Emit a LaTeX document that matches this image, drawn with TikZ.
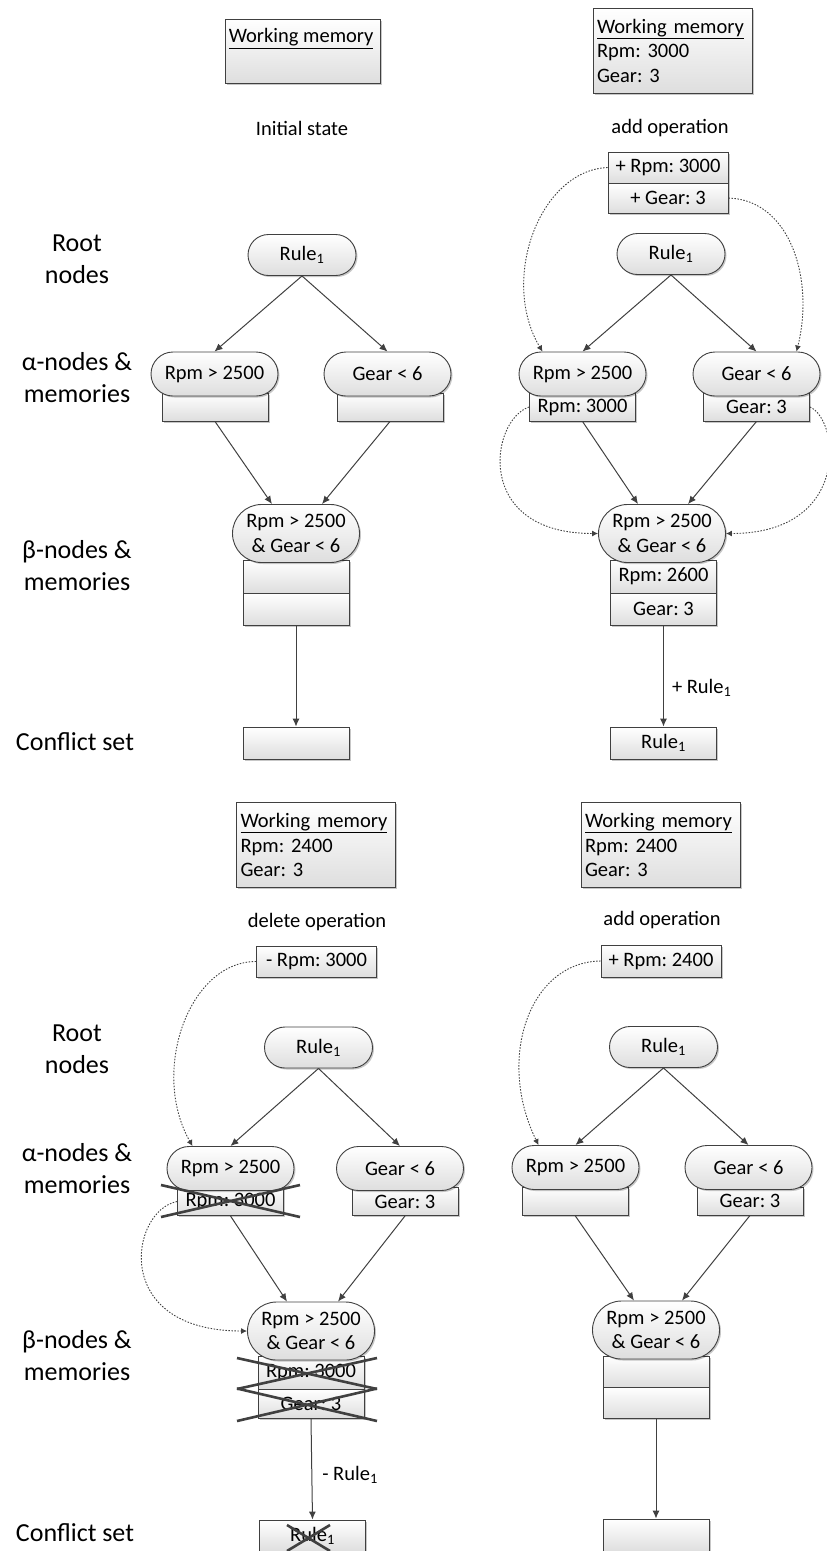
\documentclass[tikz,border=0pt]{standalone}
\usepackage{fontspec}
\setmainfont{Carlito}
\frenchspacing
\usetikzlibrary{shapes.misc,arrows.meta,shadows,calc}
\definecolor{lc}{RGB}{64,64,64}
\definecolor{fillbot}{RGB}{222,222,222}
\newcommand\nsz{\fontsize{20.5pt}{24.5pt}\selectfont}
\newcommand\lsz{\fontsize{26pt}{32pt}\selectfont}
\tikzset{
  base/.style={draw=lc, line width=0.9pt, top color=white, bottom color=fillbot,
    drop shadow={shadow xshift=1.5pt, shadow yshift=-1.5pt, fill=black, opacity=0.22},
    font=\nsz, inner sep=0pt},
  rnode/.style={base, rounded rectangle, minimum width=108pt, minimum height=41pt},
  anode/.style={base, rounded rectangle, minimum width=127pt, minimum height=44pt},
  bnode/.style={base, rounded rectangle, minimum width=127pt, minimum height=58pt, align=center},
  amem/.style={base, rectangle, minimum width=106pt, minimum height=28pt},
  bmem/.style={base, rectangle, minimum width=106pt},
  cbox/.style={base, rectangle, minimum width=106pt, minimum height=32pt},
  opbox/.style={base, rectangle, minimum width=120pt, minimum height=31pt},
  wmbox/.style={base, rectangle, text width=151pt, align=left, inner sep=4pt, minimum height=85pt},
  wmempty/.style={base, rectangle, minimum width=155pt, minimum height=64pt},
  wmtitle/.style={anchor=north west, font=\nsz, inner sep=0pt},
  captxt/.style={font=\nsz, inner sep=0pt},
  side/.style={font=\lsz, align=center, inner sep=0pt},
  arr/.style={draw=lc, line width=1pt, -{Latex[length=8pt,width=7pt]}},
  darr/.style={draw=lc, line width=0.9pt, dash pattern=on 1.5pt off 1.5pt, -{Latex[length=6pt,width=6pt]}},
  xline/.style={draw=lc, line width=2.6pt},
  elab/.style={font=\nsz, inner sep=0pt, anchor=west}
}
\begin{document}
\begin{tikzpicture}[x=1pt,y=-1pt]
\useasboundingbox (0,0) rectangle (827,1551);

% ---------- side labels ----------
\node[side] (l1) at (77,259) {Root\\nodes};
\node[side] (l2) at (77,378) {α-nodes \&\\memories};
\node[side] (l3) at (77,566) {β-nodes \&\\memories};
\node[side] (l4) at (75,742) {Conflict set};
\node[side] (l5) at (77,1049) {Root\\nodes};
\node[side] (l6) at (77,1169) {α-nodes \&\\memories};
\node[side] (l7) at (77,1356) {β-nodes \&\\memories};
\node[side] (l8) at (75,1533) {Conflict set};

% ---------- panel 1 ----------
\node[wmempty] (wm1) at (302.5,51) {};
\node[wmtitle] (wm1t) at ($(wm1.north west)+(4,10)$) {\underline{Working memory}};
\node[captxt] (st1) at (302,128) {Initial state};
\node[rnode] (r1) at (302,255) {Rule\textsubscript{1}};
\node[amem] (a1m) at (215,407) {};
\node[anode] (a1) at (214.5,374) {Rpm > 2500};
\node[amem] (a2m) at (390,407) {};
\node[anode] (a2) at (387.5,374) {Gear < 6};
\node[bmem, minimum height=33pt] (b1m1) at (296,576.5) {};
\node[bmem, minimum height=32pt] (b1m2) at (296,609) {};
\node[bnode] (b1) at (296,533.5) {Rpm > 2500\\\& Gear < 6};
\node[cbox] (c1) at (296,743) {};
\draw[arr] (r1.south) -- (a1.north);
\draw[arr] (r1.south) -- (a2.north);
\draw[arr] (a1m.south) -- ($(b1.north)+(-24,0)$);
\draw[arr] (a2m.south) -- ($(b1.north)+(26,0)$);
\draw[arr] (b1m2.south) -- (c1.north);

% ---------- panel 2 ----------
\node[wmbox] (wm2) at (672.5,50.5) {\underline{Working memory}\\Rpm: 3000\\Gear: 3};
\node[captxt] (st2) at (670,128) {add operation};
\node[opbox] (op2a) at (668,167.5) {+ Rpm: 3000};
\node[opbox, minimum height=30pt] (op2b) at (668,198) {+ Gear: 3};
\node[rnode] (r2) at (671,254) {Rule\textsubscript{1}};
\node[amem] (a3m) at (582.5,407) {Rpm: 3000};
\node[anode] (a3) at (582.5,374) {Rpm > 2500};
\node[amem] (a4m) at (756.5,407) {Gear: 3};
\node[anode] (a4) at (756.5,374) {Gear < 6};
\node[bmem, minimum height=33pt] (b2m1) at (663.5,576.5) {Rpm: 2600};
\node[bmem, minimum height=32pt] (b2m2) at (663.5,609) {Gear: 3};
\node[bnode] (b2) at (662,533.5) {Rpm > 2500\\\& Gear < 6};
\node[cbox] (c2) at (663.5,743) {Rule\textsubscript{1}};
\draw[arr] (r2.south) -- (a3.north);
\draw[arr] (r2.south) -- (a4.north);
\draw[arr] (a3m.south) -- ($(b2.north)+(-24,0)$);
\draw[arr] (a4m.south) -- ($(b2.north)+(26,0)$);
\draw[arr] (b2m2.south) -- node[elab, pos=0.62, xshift=8pt] {+ Rule\textsubscript{1}} (c2.north);
\draw[darr] (op2a.west) .. controls +(-68,3) and +(-43,-72) .. ($(a3.north)+(-40,0)$);
\draw[darr] (op2b.east) .. controls +(62,2) and +(18,-72) .. ($(a4.north)+(40,0)$);
\draw[darr] (a3m.west) .. controls +(-39,13) and +(-125,0) .. (b2.west);
\draw[darr] (a4m.east) .. controls +(30,13) and +(125,0) .. (b2.east);

% ---------- panel 3 ----------
\node[wmbox] (wm3) at (316,845) {\underline{Working memory}\\Rpm: 2400\\Gear: 3};
\node[captxt] (st3) at (317,922) {delete operation};
\node[opbox] (op3) at (316.5,961.5) {- Rpm: 3000};
\node[rnode] (r3) at (318.5,1047.5) {Rule\textsubscript{1}};
\node[amem] (a5m) at (230.5,1201.5) {Rpm: 3000};
\node[anode] (a5) at (230.5,1168.5) {Rpm > 2500};
\node[amem] (a6m) at (405,1201.5) {Gear: 3};
\node[anode] (a6) at (400,1168.5) {Gear < 6};
\node[bmem, minimum height=33pt] (b3m1) at (311,1372.5) {Rpm: 3000};
\node[bmem, minimum height=29pt] (b3m2) at (311,1403.5) {Gear: 3};
\node[bnode] (b3) at (311,1331) {Rpm > 2500\\\& Gear < 6};
\node[cbox] (c3) at (312.5,1536) {Rule\textsubscript{1}};
\draw[arr] (r3.south) -- (a5.north);
\draw[arr] (r3.south) -- (a6.north);
\draw[arr] (a5m.south) -- ($(b3.north)+(-24,0)$);
\draw[arr] (a6m.south) -- ($(b3.north)+(27,0)$);
\draw[arr] (b3m2.south) -- node[elab, pos=0.56, xshift=10pt] {- Rule\textsubscript{1}} (c3.north);
\draw[darr] (op3.west) .. controls +(-67,0) and +(-42.5,-75) .. ($(a5.north)+(-38,0)$);
\draw[darr] (a5m.west) .. controls +(-47,9) and +(-137,0) .. (b3.west);
% crosses
\draw[xline] ($(a5m.center)+(-69.5,-16.5)$) -- ($(a5m.center)+(69.5,15.5)$);
\draw[xline] ($(a5m.center)+(-69.5,15.5)$) -- ($(a5m.center)+(69.5,-16.5)$);
\draw[xline] ($(b3m1.center)+(-74,-14.5)$) -- ($(b3m1.center)+(66,16.5)$);
\draw[xline] ($(b3m1.center)+(-74,16.5)$) -- ($(b3m1.center)+(66,-14.5)$);
\draw[xline] ($(b3m2.center)+(-74,-15)$) -- ($(b3m2.center)+(66,17.5)$);
\draw[xline] ($(b3m2.center)+(-74,17.5)$) -- ($(b3m2.center)+(66,-15)$);
\draw[xline] ($(c3.center)+(-25.5,-11)$) -- ($(c3.center)+(17.5,15)$);
\draw[xline] ($(c3.center)+(-25.5,15)$) -- ($(c3.center)+(17.5,-11)$);

% ---------- panel 4 ----------
\node[wmbox] (wm4) at (660.5,845) {\underline{Working memory}\\Rpm: 2400\\Gear: 3};
\node[captxt] (st4) at (662,920) {add operation};
\node[opbox, minimum height=32pt] (op4) at (661,961) {+ Rpm: 2400};
\node[rnode] (r4) at (663.5,1047) {Rule\textsubscript{1}};
\node[amem] (a7m) at (575,1201) {};
\node[anode] (a7) at (575.5,1167.5) {Rpm > 2500};
\node[amem] (a8m) at (750,1201) {Gear: 3};
\node[anode] (a8) at (748.5,1167.5) {Gear < 6};
\node[bmem, minimum height=31pt] (b4m1) at (656,1371.5) {};
\node[bmem, minimum height=31pt] (b4m2) at (656,1402.5) {};
\node[bnode] (b4) at (656,1330) {Rpm > 2500\\\& Gear < 6};
\node[cbox, minimum height=33pt] (c4) at (656,1535.5) {};
\draw[arr] (r4.south) -- (a7.north);
\draw[arr] (r4.south) -- (a8.north);
\draw[arr] (a7m.south) -- ($(b4.north)+(-22,0)$);
\draw[arr] (a8m.south) -- ($(b4.north)+(26,0)$);
\draw[arr] (b4m2.south) -- (c4.north);
\draw[darr] (op4.west) .. controls +(-71,1) and +(-42.5,-87) .. ($(a7.north)+(-37,0)$);
\end{tikzpicture}
\end{document}
